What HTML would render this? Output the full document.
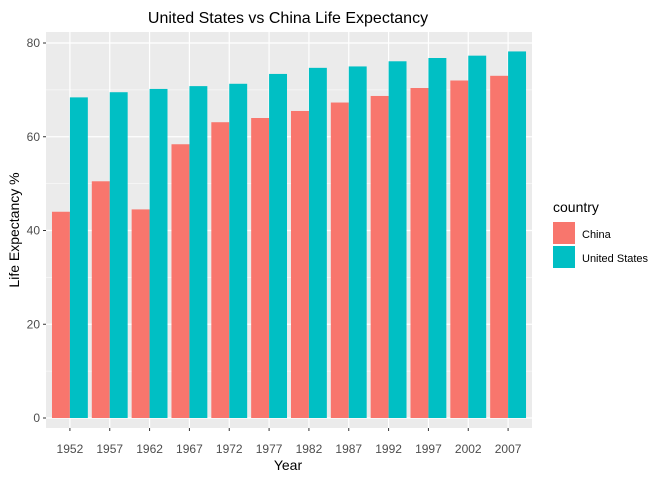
<!DOCTYPE html>
<html><head><meta charset="utf-8"><style>
body{margin:0;background:#fff;font-family:"Liberation Sans",Arial,sans-serif}
svg text{font-family:"Liberation Sans",Arial,sans-serif}
</style></head><body>
<svg id="chart" width="672" height="480" xmlns="http://www.w3.org/2000/svg">
<rect width="672" height="480" fill="#fff"/>
<text x="288" y="23" text-anchor="middle" font-size="16" fill="#000">United States vs China Life Expectancy</text>
<rect x="46" y="32" width="486" height="396" fill="#EBEBEB"/>
<g id="grid"></g><g id="bars"></g><g id="axes"></g>
<text x="288" y="470" text-anchor="middle" font-size="14" fill="#000">Year</text>
<text transform="translate(19,230) rotate(-90)" text-anchor="middle" font-size="14" fill="#000">Life Expectancy %</text>
<g>
<text x="553" y="212" font-size="14" fill="#000">country</text>
<g><rect x="553" y="222" width="22" height="22" fill="#F8766D"/><text x="582" y="238" font-size="11" fill="#000">China</text></g>
<g><rect x="553" y="246" width="22" height="22" fill="#00BFC4"/><text x="582" y="262" font-size="11" fill="#000">United States</text></g>
</g>
</svg>
<script>
const years=["1952","1957","1962","1967","1972","1977","1982","1987","1992","1997","2002","2007"];
const china=[44.0,50.5,44.5,58.4,63.1,64.0,65.5,67.3,68.7,70.4,72.0,73.0];
const usa=[68.4,69.5,70.2,70.8,71.3,73.4,74.7,75.0,76.1,76.8,77.3,78.2];
const yTicks=[0,20,40,60,80];
const yMinor=[10,30,50,70];
const NS="http://www.w3.org/2000/svg";
const step=(532-46)/(years.length+0.2);
const xs=i=>46+step*0.6+i*step;
const ys=v=>418-v*375/80;
function mk(tag,attrs,parent){const e=document.createElementNS(NS,tag);for(const k in attrs)e.setAttribute(k,attrs[k]);document.getElementById(parent).appendChild(e);return e;}
yMinor.forEach(v=>{const l=mk('line',{x1:46,x2:532,y1:ys(v),y2:ys(v),stroke:'#fff','stroke-width':0.6},'grid');

});
yTicks.forEach(v=>{const l=mk('line',{x1:46,x2:532,y1:ys(v),y2:ys(v),stroke:'#fff','stroke-width':1.2},'grid');


mk('line',{x1:43,x2:46,y1:ys(v),y2:ys(v),stroke:'#333'},'axes');
const t=mk('text',{x:40,y:ys(v)+4,'text-anchor':'end','font-size':12,fill:'#4D4D4D'},'axes');t.textContent=v;

});
const bw=step*0.9/2;
years.forEach((y,i)=>{const x=xs(i);
const g=mk('line',{x1:x,x2:x,y1:32,y2:428,stroke:'#fff','stroke-width':1.2},'grid');


const a=mk('rect',{x:x-bw,y:ys(china[i]),width:bw,height:ys(0)-ys(china[i]),fill:'#F8766D'},'bars');


const b=mk('rect',{x:x,y:ys(usa[i]),width:bw,height:ys(0)-ys(usa[i]),fill:'#00BFC4'},'bars');


mk('line',{x1:x,x2:x,y1:428,y2:431,stroke:'#333'},'axes');
const t=mk('text',{x:x,y:453,'text-anchor':'middle','font-size':12,fill:'#4D4D4D'},'axes');t.textContent=y;

});
</script>
</body></html>
